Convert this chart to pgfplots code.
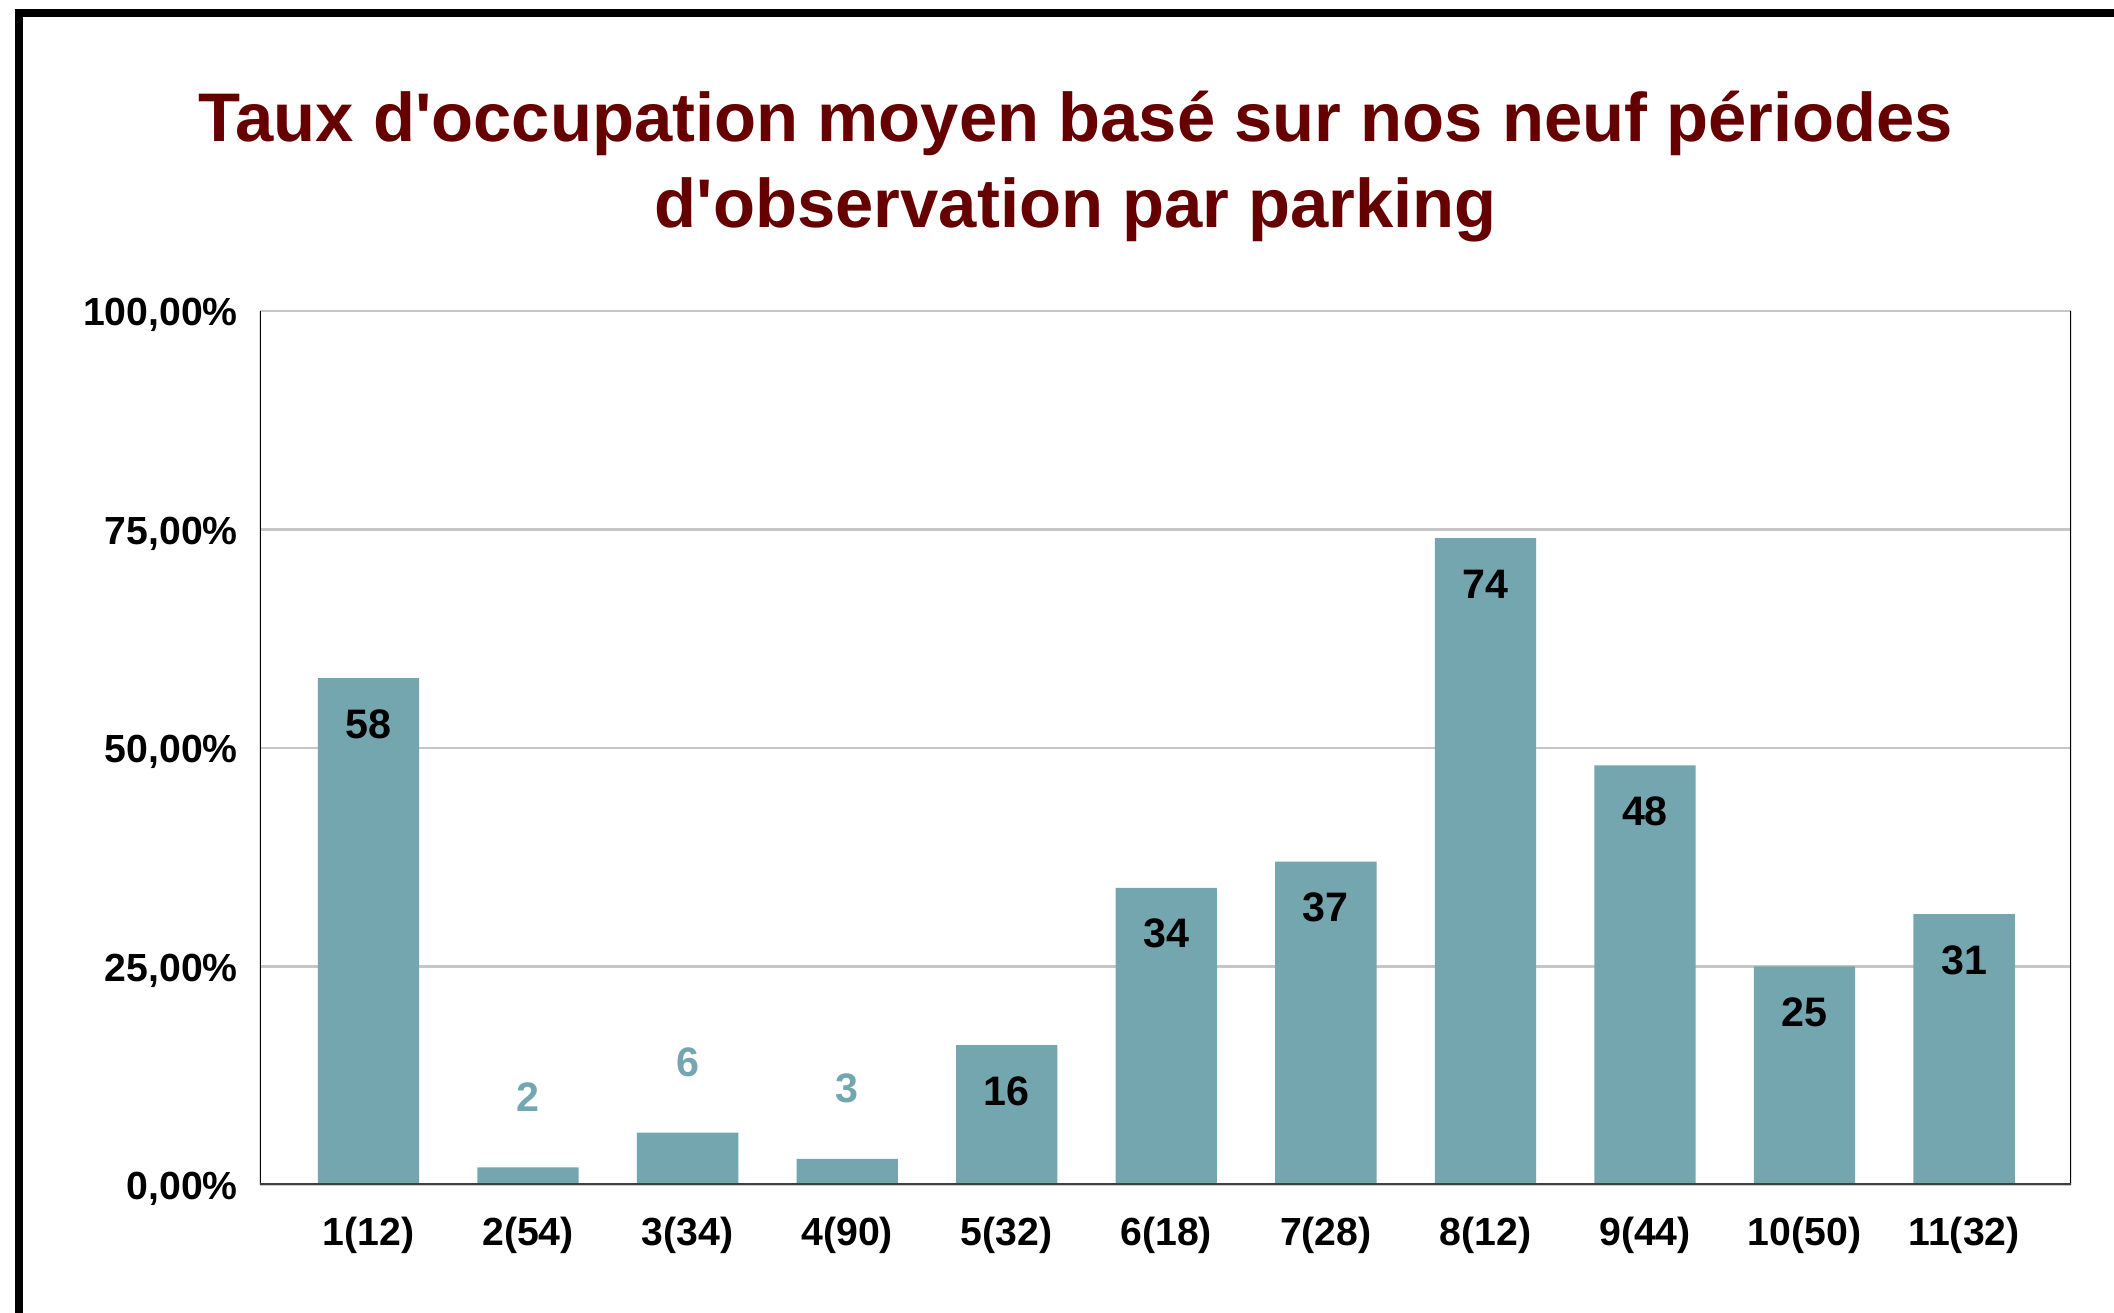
\documentclass[border=0pt]{standalone}
\usepackage{fontspec}
\setmainfont{Liberation Sans}
\usepackage{pgfplots}
\pgfplotsset{compat=1.18}

\definecolor{barteal}{HTML}{74A6B0}
\definecolor{titlered}{HTML}{660000}

\begin{document}
\begin{tikzpicture}
% page = 2114 x 1313 px at 0.25pt per px
\useasboundingbox (0,0) rectangle (528.5pt,328.25pt);
\fill[white] (0,0) rectangle (528.5pt,328.25pt);
% black frame, cut off on the right and bottom
\draw[black, line width=2pt] (4.75pt,0) -- (4.75pt,325pt) -- (528.5pt,325pt);

\node[text=titlered, font=\fontsize{17.2}{21.3}\selectfont\bfseries, align=center]
  at (269pt,286.6pt) {Taux d\textquotesingle occupation moyen basé sur nos neuf périodes\\d\textquotesingle observation par parking};

\begin{axis}[
  at={(65pt,32pt)}, anchor=south west,
  scale only axis, width=452.75pt, height=218.5pt,
  xmin=-0.68, xmax=10.67, ymin=0, ymax=100,
  axis line style={draw=none},
  major tick length=0pt,
  ymajorgrids, grid style={draw=gray!45, line width=0.7pt},
  ytick={0,25,50,75,100},
  yticklabels={{0,00\%},{25,00\%},{50,00\%},{75,00\%},{100,00\%}},
  xtick={0,...,10},
  xticklabels={1(12),2(54),3(34),4(90),5(32),6(18),7(28),8(12),9(44),10(50),11(32)},
  tick label style={font=\fontsize{9.8}{11}\selectfont\bfseries},
  yticklabel style={xshift=-2pt, yshift=-1pt},
  xticklabel style={yshift=-4.5pt},
  /pgf/number format/assume math mode=true,
  ybar, bar width=0.635, bar shift=0pt,
  nodes near coords,
  every node near coord/.append style={font=\fontsize{10.3}{12}\selectfont\bfseries, anchor=center},
]
% bars with the value written inside
\addplot[fill=barteal, draw=none,
  every node near coord/.append style={text=black, yshift=-11.5pt}]
  coordinates {(0,58)(4,16)(5,34)(6,37)(7,74)(8,48)(9,25)(10,31)};
% short bars: value written above
\addplot[fill=barteal, draw=none,
  every node near coord/.append style={text=barteal, yshift=17.5pt}]
  coordinates {(1,2)(2,6)(3,3)};

\draw[black, line width=0.6pt] (rel axis cs:0,0) -- (rel axis cs:0,1);
\draw[black, line width=0.6pt] (rel axis cs:1,0) -- (rel axis cs:1,1);
\draw[black!75, line width=0.8pt] (rel axis cs:0,0) -- (rel axis cs:1,0);
\end{axis}
\end{tikzpicture}
\end{document}
